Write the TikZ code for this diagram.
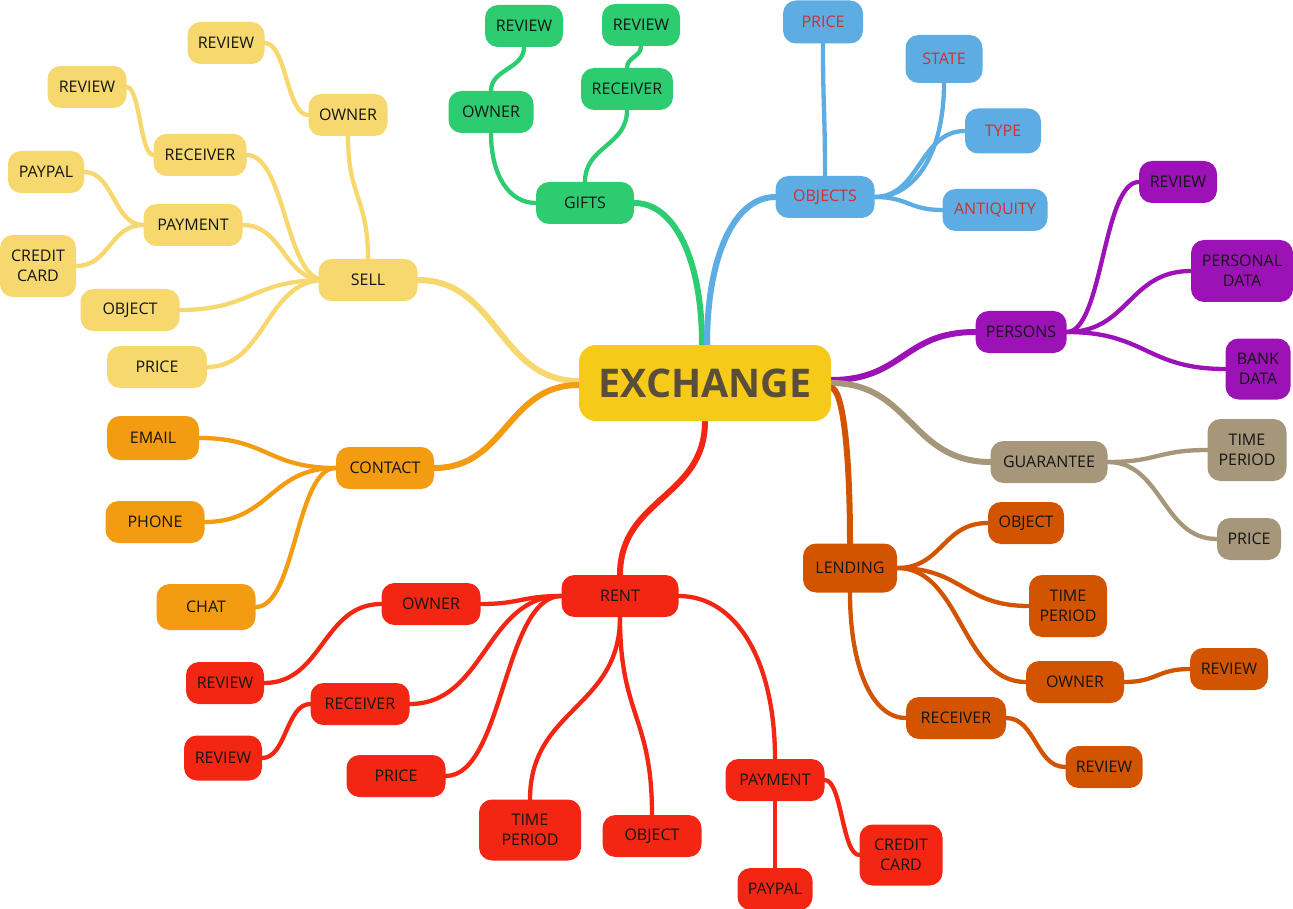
\documentclass[tikz,border=0pt]{standalone}
\usepackage{fontspec}
\setmainfont{Open Sans}
\usetikzlibrary{calc,backgrounds}
\definecolor{cSell}{HTML}{F6D86F}
\definecolor{cGift}{HTML}{2ECC71}
\definecolor{cObj}{HTML}{5DADE2}
\definecolor{cObjTxt}{HTML}{CF3030}
\definecolor{cPers}{HTML}{9C12B6}
\definecolor{cGuar}{HTML}{A6977A}
\definecolor{cLend}{HTML}{D35400}
\definecolor{cCont}{HTML}{F39C12}
\definecolor{cRent}{HTML}{F22613}
\definecolor{cEx}{HTML}{F6CA18}
\definecolor{cExTxt}{HTML}{5A4E3B}
\definecolor{cTxt}{HTML}{151515}
\newcommand\hS[3]{\draw[#1] let \p1=(#2), \p2=(#3) in (\p1) .. controls ({(\x1+\x2)/2},\y1) and ({(\x1+\x2)/2},\y2) .. (\p2);}
\newcommand\vS[3]{\draw[#1] let \p1=(#2), \p2=(#3) in (\p1) .. controls (\x1,{(\y1+\y2)/2}) and (\x2,{(\y1+\y2)/2}) .. (\p2);}
\newcommand\hV[3]{\draw[#1] let \p1=(#2), \p2=(#3) in (\p1) .. controls ({\x1+0.6*(\x2-\x1)},\y1) and (\x2,{\y2+0.6*(\y1-\y2)}) .. (\p2);}
\newcommand\vH[3]{\draw[#1] let \p1=(#2), \p2=(#3) in (\p1) .. controls (\x1,{\y1+0.6*(\y2-\y1)}) and ({\x2+0.6*(\x1-\x2)},\y2) .. (\p2);}
\tikzset{
  mm/.style={rounded corners=13pt, inner sep=0pt, minimum height=42pt, text=cTxt,
    font=\fontsize{16}{20}\selectfont, align=center},
  sellbox/.style={mm, fill=cSell},
  giftbox/.style={mm, fill=cGift},
  objbox/.style={mm, fill=cObj, text=cObjTxt},
  persbox/.style={mm, fill=cPers},
  guarbox/.style={mm, fill=cGuar},
  lendbox/.style={mm, fill=cLend},
  contbox/.style={mm, fill=cCont},
  rentbox/.style={mm, fill=cRent},
  sub/.style={line width=4.3pt, line cap=round},
  mainl/.style={line width=6pt, line cap=round},
}
\begin{document}
\begin{tikzpicture}[x=1pt,y=-1pt]
\useasboundingbox (0,0) rectangle (1293,909);

% centre
\node[rounded corners=17pt, fill=cEx, minimum width=252pt, minimum height=76pt, inner sep=0pt,
  text=cExTxt, font=\fontsize{39.5}{46}\selectfont\bfseries] (ex) at (705,383) {EXCHANGE};

% SELL
\node[sellbox, minimum width=77pt] (sRev1) at (226,43) {REVIEW};
\node[sellbox, minimum width=79pt] (sOwner) at (348,115) {OWNER};
\node[sellbox, minimum width=79pt] (sRev2) at (87,87) {REVIEW};
\node[sellbox, minimum width=93pt] (sRec) at (200,155) {RECEIVER};
\node[sellbox, minimum width=76pt] (sPaypal) at (46,172) {PAYPAL};
\node[sellbox, minimum width=99pt] (sPay) at (193,225) {PAYMENT};
\node[sellbox, minimum width=76pt, minimum height=62pt] (sCC) at (38,266) {CREDIT\\CARD};
\node[sellbox, minimum width=99pt] (sSell) at (368,280) {SELL};
\node[sellbox, minimum width=99pt] (sObj) at (130,310) {OBJECT};
\node[sellbox, minimum width=100pt] (sPrice) at (157,367) {PRICE};

% GIFTS
\node[giftbox, minimum width=78pt] (gRev1) at (524,26) {REVIEW};
\node[giftbox, minimum width=78pt] (gRev2) at (641,25) {REVIEW};
\node[giftbox, minimum width=85pt] (gOwner) at (491,112) {OWNER};
\node[giftbox, minimum width=92pt] (gRec) at (627,89) {RECEIVER};
\node[giftbox, minimum width=98pt] (gGifts) at (585,203) {GIFTS};

% OBJECTS
\node[objbox, minimum width=80pt, minimum height=43pt] (oPrice) at (823,22) {PRICE};
\node[objbox, minimum width=77pt, minimum height=48pt] (oState) at (944,59) {STATE};
\node[objbox, minimum width=76pt, minimum height=45pt] (oType) at (1003,131) {TYPE};
\node[objbox, minimum width=99pt] (oObjects) at (825,197) {OBJECTS};
\node[objbox, minimum width=105pt] (oAnt) at (995,210) {ANTIQUITY};

% PERSONS
\node[persbox, minimum width=78pt] (pRev) at (1178,182) {REVIEW};
\node[persbox, minimum width=102pt, minimum height=62pt] (pPD) at (1242,271) {PERSONAL\\DATA};
\node[persbox, minimum width=91pt] (pPersons) at (1021,332) {PERSONS};
\node[persbox, minimum width=65pt, minimum height=61pt] (pBank) at (1258,369) {BANK\\DATA};

% GUARANTEE
\node[guarbox, minimum width=117pt] (tGuar) at (1049,462) {GUARANTEE};
\node[guarbox, minimum width=79pt, minimum height=62pt] (tTP) at (1247,450) {TIME\\PERIOD};
\node[guarbox, minimum width=64pt] (tPrice) at (1249,539) {PRICE};

% LENDING
\node[lendbox, minimum width=94pt, minimum height=49pt] (lLend) at (850,568) {LENDING};
\node[lendbox, minimum width=76pt] (lObj) at (1026,523) {OBJECT};
\node[lendbox, minimum width=78pt, minimum height=62pt] (lTP) at (1068,606) {TIME\\PERIOD};
\node[lendbox, minimum width=98pt] (lOwner) at (1075,682) {OWNER};
\node[lendbox, minimum width=78pt] (lRev1) at (1229,669) {REVIEW};
\node[lendbox, minimum width=100pt] (lRec) at (956,718) {RECEIVER};
\node[lendbox, minimum width=77pt] (lRev2) at (1104,767) {REVIEW};

% CONTACT
\node[contbox, minimum width=92pt, minimum height=44pt] (cEmail) at (153,438) {EMAIL};
\node[contbox, minimum width=99pt] (cPhone) at (155,522) {PHONE};
\node[contbox, minimum width=99pt, minimum height=46pt] (cChat) at (206,607) {CHAT};
\node[contbox, minimum width=98pt] (cContact) at (385,468) {CONTACT};

% RENT
\node[rentbox, minimum width=117pt] (rRent) at (620,596) {RENT};
\node[rentbox, minimum width=99pt] (rOwner) at (431,604) {OWNER};
\node[rentbox, minimum width=78pt] (rRev1) at (225,683) {REVIEW};
\node[rentbox, minimum width=99pt] (rRec) at (360,704) {RECEIVER};
\node[rentbox, minimum width=78pt, minimum height=45pt] (rRev2) at (223,758) {REVIEW};
\node[rentbox, minimum width=99pt] (rPrice) at (396,776) {PRICE};
\node[rentbox, minimum width=102pt, minimum height=61pt] (rTP) at (530,830) {TIME\\PERIOD};
\node[rentbox, minimum width=99pt] (rObj) at (652,836) {OBJECT};
\node[rentbox, minimum width=99pt] (rPay) at (775,780) {PAYMENT};
\node[rentbox, minimum width=75pt] (rPaypal) at (775,889) {PAYPAL};
\node[rentbox, minimum width=83pt, minimum height=61pt] (rCC) at (901,855) {CREDIT\\CARD};

\begin{pgfonlayer}{background}
\fill[white] (0,0) rectangle (1293,909);
% main branches
\hS{mainl, cSell}{[yshift=2pt]ex.west}{sSell.east}
\hS{mainl, cCont}{[yshift=-2pt]ex.west}{cContact.east}
\vH{mainl, cGift}{[xshift=-3pt]ex.north}{gGifts.east}
\vH{mainl, cObj}{[xshift=2pt]ex.north}{oObjects.west}
\hS{mainl, cPers}{[yshift=3pt]ex.east}{pPersons.west}
\hS{mainl, cGuar}{ex.east}{tGuar.west}
\hV{mainl, cLend}{[yshift=-5pt]ex.east}{lLend.north}
\vS{mainl, cRent}{ex.south}{rRent.north}

% SELL
\hS{sub, cSell}{[xshift=6pt]sSell.west}{sRec.east}
\hS{sub, cSell}{[xshift=6pt]sSell.west}{sPay.east}
\hS{sub, cSell}{[xshift=6pt]sSell.west}{sObj.east}
\hS{sub, cSell}{[xshift=6pt]sSell.west}{sPrice.east}
\vS{sub, cSell}{sSell.north}{sOwner.south}
\hS{sub, cSell}{sOwner.west}{sRev1.east}
\hS{sub, cSell}{sRec.west}{sRev2.east}
\hS{sub, cSell}{sPay.west}{sPaypal.east}
\hS{sub, cSell}{sPay.west}{sCC.east}

% GIFTS
\vS{sub, cGift}{gGifts.north}{gRec.south}
\vS{sub, cGift}{gRec.north}{gRev2.south}
\vS{sub, cGift}{gOwner.north}{gRev1.south}
\vH{sub, cGift}{gOwner.south}{gGifts.west}

% OBJECTS
\vS{sub, cObj}{oObjects.north}{oPrice.south}
\hV{sub, cObj}{oObjects.east}{oState.south}
\hS{sub, cObj}{oObjects.east}{oType.west}
\hS{sub, cObj}{oObjects.east}{oAnt.west}

% PERSONS
\hS{sub, cPers}{pPersons.east}{pRev.west}
\hS{sub, cPers}{pPersons.east}{pPD.west}
\hS{sub, cPers}{pPersons.east}{pBank.west}

% GUARANTEE
\hS{sub, cGuar}{tGuar.east}{tTP.west}
\hS{sub, cGuar}{tGuar.east}{tPrice.west}

% LENDING
\hS{sub, cLend}{lLend.east}{lObj.west}
\hS{sub, cLend}{lLend.east}{lTP.west}
\hS{sub, cLend}{lLend.east}{lOwner.west}
\vH{sub, cLend}{lLend.south}{lRec.west}
\hS{sub, cLend}{lRec.east}{lRev2.west}
\hS{sub, cLend}{lOwner.east}{lRev1.west}

% CONTACT
\hS{sub, cCont}{cContact.west}{cEmail.east}
\hS{sub, cCont}{cContact.west}{cPhone.east}
\hS{sub, cCont}{cContact.west}{cChat.east}

% RENT
\hS{sub, cRent}{rRent.west}{rOwner.east}
\hS{sub, cRent}{rRent.west}{rRec.east}
\hS{sub, cRent}{rRent.west}{rPrice.east}
\hS{sub, cRent}{rOwner.west}{rRev1.east}
\hS{sub, cRent}{rRec.west}{rRev2.east}
\vS{sub, cRent}{rRent.south}{rTP.north}
\vS{sub, cRent}{rRent.south}{rObj.north}
\hV{sub, cRent}{rRent.east}{rPay.north}
\vS{sub, cRent}{rPay.south}{rPaypal.north}
\hS{sub, cRent}{rPay.east}{rCC.west}
\end{pgfonlayer}
\end{tikzpicture}
\end{document}
